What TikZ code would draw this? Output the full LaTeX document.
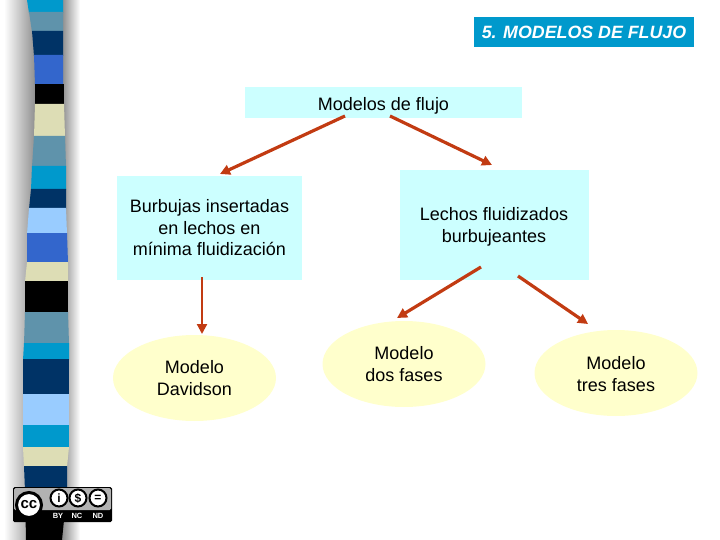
\documentclass[tikz,border=0pt]{standalone}
\usepackage{fontspec}
\setmainfont{Liberation Sans}
\usetikzlibrary{shapes.geometric, arrows.meta, positioning}
\definecolor{BoxCyan}{HTML}{CCFFFF}
\definecolor{OvalCream}{HTML}{FFFFCC}
\definecolor{TitleBlue}{HTML}{0099CC}
\definecolor{ArrowRust}{HTML}{C23B12}
\definecolor{StripeSky}{HTML}{0099CC}
\definecolor{StripeSteel}{HTML}{5F93AB}
\definecolor{StripeNavy}{HTML}{003366}
\definecolor{StripeBlue}{HTML}{3366CC}
\definecolor{StripeCream}{HTML}{DDDDB5}
\definecolor{StripeLight}{HTML}{99CCFF}
\tikzset{
  boxnode/.style={fill=BoxCyan, align=center, font=\fontsize{18}{21.5}\selectfont, inner sep=0pt},
  ovalnode/.style={ellipse, fill=OvalCream, align=center, font=\fontsize{18}{21.5}\selectfont, inner sep=0pt},
  flowarrow/.style={draw=ArrowRust, line width=3.2pt, -{Triangle[length=10pt,width=10pt]}},
  ccsign/.style={circle, draw=black, fill=white, line width=2pt, inner sep=0pt, minimum size=17pt, font=\bfseries\fontsize{12}{12}\selectfont},
  cclabel/.style={text=white, font=\bfseries\fontsize{7.5}{7.5}\selectfont, inner sep=0pt}
}
\begin{document}
\begin{tikzpicture}[x=1pt, y=-1pt]
  \useasboundingbox (0,0) rectangle (720,540);
  % shadow of the strip
  \shade[left color=white, right color=black!45] (4,0) rectangle (36,540);
  \shade[left color=black!50, right color=white] (60,0) rectangle (80,540);
  % strip bands: colour / top / bottom / left at top / left at bottom / right at top / right at bottom
  \foreach \bandcolor/\ytop/\ybot/\xa/\xb/\xc/\xd in {
    StripeSky/0/13/27/29/63/63, StripeSteel/12/32/29/32/63/63,
    StripeNavy/31/56/32/34/63/63, StripeBlue/55/85/34/35/63/63,
    black/84/105/35/35/64/64, StripeCream/104/137/35/34/64/65,
    StripeSteel/136/167/34/32/65/66, StripeSky/166/190/32/31/66/66,
    StripeNavy/189/209/31/29/66/66, StripeLight/208/234/29/27/66/67,
    StripeBlue/233/263/27/27/67/68, StripeCream/262/282/27/25/68/68,
    black/281/313/25/25/68/68, StripeSteel/312/344/25/24/68/69,
    StripeSky/343/360/24/23/69/69, StripeNavy/359/395/23/23/69/69,
    StripeLight/394/426/23/23/69/69, StripeSky/425/448/23/23/69/69,
    StripeCream/447/467/23/24/69/67, StripeNavy/466/491/24/25/67/67,
    black/490/540/25/26/67/62}
    \fill[\bandcolor] (\xa,\ytop) -- (\xc,\ytop) -- (\xd,\ybot) -- (\xb,\ybot) -- cycle;
  % licence badge
  \fill[black, rounded corners=1.5pt] (13,487) rectangle (112,522);
  \fill[black!30, rounded corners=1.5pt] (14,488) rectangle (111,510);
  \node[ccsign, minimum size=25pt, line width=3pt, font=\bfseries\fontsize{15}{15}\selectfont] (ccmain) at (29,505) {cc};
  \node[ccsign] (ccby) at (59,498) {i};
  \node[ccsign] (ccnc) at (78,498) {\$};
  \node[ccsign] (ccnd) at (98,498) {=};
  \node[cclabel] (bytext) at (58,516) {BY};
  \node[cclabel] (nctext) at (77,516) {NC};
  \node[cclabel] (ndtext) at (98,516) {ND};
  % title
  \node[fill=TitleBlue, text=white, minimum width=220pt, minimum height=30pt, inner sep=0pt,
        font=\bfseries\itshape\fontsize{17.8}{17.8}\selectfont] (title) at (584,32) {5. MODELOS DE FLUJO};
  % boxes
  \node[boxnode, minimum width=277pt, minimum height=31pt] (models) at (383.5,103) {\rule{0pt}{18pt}Modelos de flujo};
  \node[boxnode, minimum width=185pt, minimum height=103pt] (bubbles) at (209.5,228) {Burbujas insertadas\\en lechos en\\mínima fluidización};
  \node[boxnode, minimum width=189pt, minimum height=110pt] (beds) at (494,225) {\rule{0pt}{17pt}Lechos fluidizados\\burbujeantes};
  % ovals
  \node[ovalnode, minimum width=163pt, minimum height=86pt] (davidson) at (194.5,378) {Modelo\\Davidson};
  \node[ovalnode, minimum width=163pt, minimum height=86pt] (twophase) at (404,364) {Modelo\\dos fases};
  \node[ovalnode, minimum width=163pt, minimum height=86pt] (threephase) at (616,373) {\rule{0pt}{15pt}Modelo\\tres fases};
  % free ends of the arrows
  \coordinate (modelsleft) at (345,116);
  \coordinate (modelsright) at (390,116);
  \coordinate (bubblesin) at (220,174);
  \coordinate (bedsin) at (492,165);
  \coordinate (bubblesout) at (202,277);
  \coordinate (davidsonin) at (202,334);
  \coordinate (bedsleft) at (481,267);
  \coordinate (twoin) at (397,318);
  \coordinate (bedsright) at (518,276);
  \coordinate (threein) at (588,324);
  \draw[flowarrow] (modelsleft) -- (bubblesin);
  \draw[flowarrow] (modelsright) -- (bedsin);
  \draw[flowarrow, line width=2.2pt] (bubblesout) -- (davidsonin);
  \draw[flowarrow] (bedsleft) -- (twoin);
  \draw[flowarrow] (bedsright) -- (threein);
\end{tikzpicture}
\end{document}
